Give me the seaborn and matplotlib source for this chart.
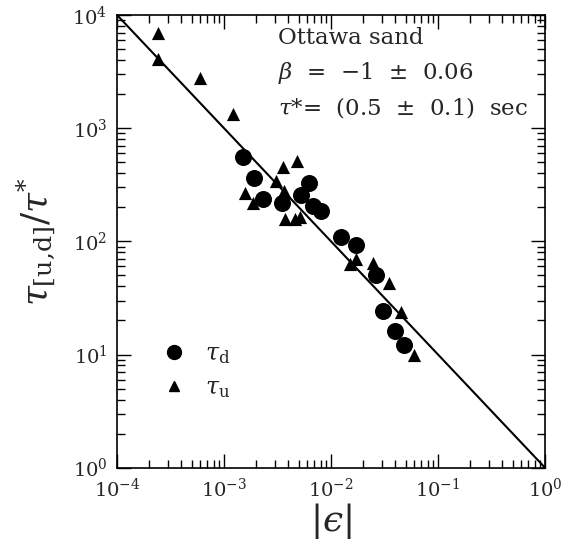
import matplotlib
matplotlib.use("Agg")
import matplotlib.pyplot as plt
import seaborn as sns
import pandas as pd
from matplotlib.lines import Line2D

sns.set_theme(style="ticks")
plt.rcParams['font.family'] = ['DejaVu Serif']
plt.rcParams['mathtext.fontset'] = 'dejavuserif'

# tau_d (circles)
eps_d = [1.50e-3, 1.91e-3, 2.32e-3, 3.48e-3, 5.20e-3, 6.18e-3, 6.78e-3, 8.0e-3,
         1.25e-2, 1.72e-2, 2.65e-2, 3.05e-2, 4.0e-2, 4.86e-2]
tau_d = [557, 361, 235, 217, 257, 330, 205, 186,
         109, 93, 50.5, 24.3, 16.2, 12.2]

# tau_u (triangles)
eps_u = [2.41e-4, 2.41e-4, 5.94e-4, 1.21e-3, 1.56e-3, 1.86e-3, 3.09e-3, 3.56e-3,
         4.85e-3, 3.64e-3, 3.69e-3, 4.57e-3, 5.09e-3, 1.49e-2, 1.72e-2, 2.46e-2,
         3.52e-2, 4.53e-2, 6.03e-2]
tau_u = [6930, 4085, 2775, 1335, 265, 218, 342, 454,
         513, 279, 158, 158, 164, 63, 70, 64,
         42.5, 23.8, 9.9]

# fit line (beta = -1)
line_eps = [1e-4, 1.0]
line_tau = [1e4, 1.0]

df_d = pd.DataFrame({"eps": eps_d, "tau": tau_d})
df_u = pd.DataFrame({"eps": eps_u, "tau": tau_u})
df_l = pd.DataFrame({"eps": line_eps, "tau": line_tau})

fig = plt.figure(figsize=(5.74, 5.48), dpi=100)
ax = fig.add_axes([117/574, 1 - 467.7/548, 428/574, 452.7/548])

sns.lineplot(data=df_l, x="eps", y="tau", ax=ax, color="black", lw=1.5)
sns.scatterplot(data=df_d, x="eps", y="tau", ax=ax, marker="o", color="black",
                s=150, edgecolor="black", linewidth=0)
sns.scatterplot(data=df_u, x="eps", y="tau", ax=ax, marker="^", color="black",
                s=90, edgecolor="black", linewidth=0)

ax.set_xscale("log")
ax.set_yscale("log")
ax.set_xlim(1e-4, 1)
ax.set_ylim(1, 1e4)

ax.tick_params(which="both", direction="in", top=True, right=True, color="black",
               width=1.0, labelsize=14, pad=7)
ax.tick_params(which="major", length=10)
ax.tick_params(which="minor", length=6)
for s in ax.spines.values():
    s.set_color("black")
    s.set_linewidth(1.2)

ax.set_xlabel("$|ϵ|$", fontsize=26, labelpad=0)
ax.set_ylabel(r"$\tau_{\rm [u{,}d]}/\tau^{*}$", fontsize=26, labelpad=10)

ax.text(0.376, 0.949, "Ottawa sand", transform=ax.transAxes, fontsize=16.5, va="center")
ax.text(0.376, 0.8725, r"$\beta$  =  $-$1  ±  0.06", transform=ax.transAxes, fontsize=16.5, va="center")
ax.text(0.376, 0.795, r"$\tau$*=  (0.5  ±  0.1)  sec", transform=ax.transAxes, fontsize=16.5, va="center")

handles = [Line2D([], [], marker="o", ls="", color="black", markersize=10),
           Line2D([], [], marker="^", ls="", color="black", markersize=7)]
ax.legend(handles, [r"$\tau_{\rm d}$", r"$\tau_{\rm u}$"], loc="center left",
          bbox_to_anchor=(0.05, 0.213), frameon=False, fontsize=17,
          labelspacing=0.45, handletextpad=0.7, handlelength=1.2)

fig.savefig("out.png", dpi=100)
